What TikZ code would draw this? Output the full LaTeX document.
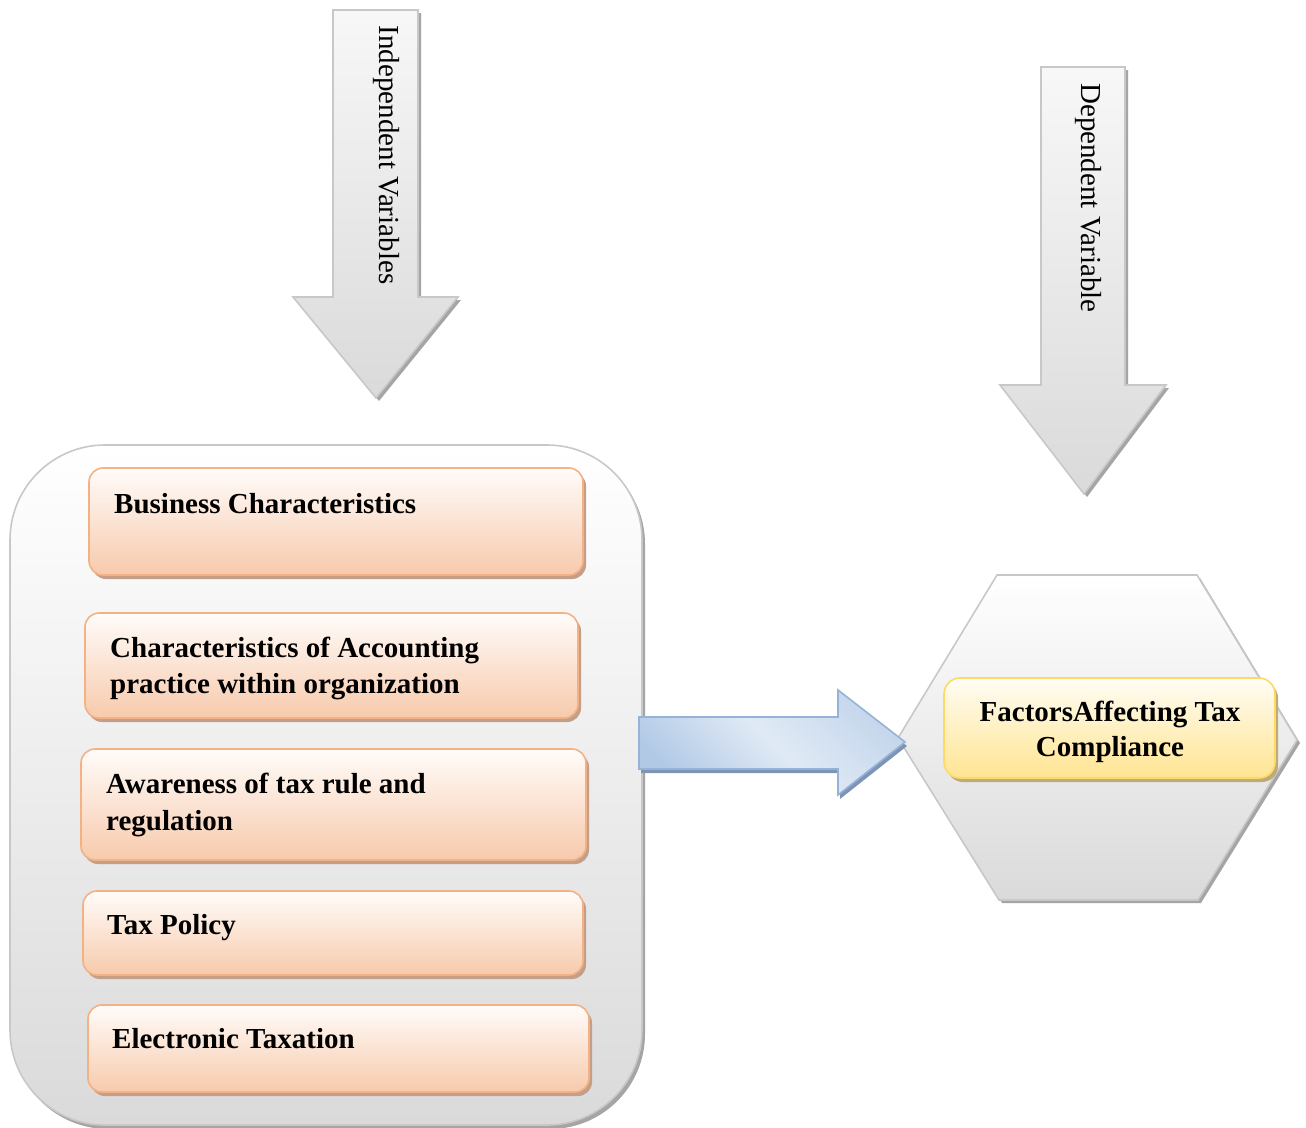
\documentclass[tikz,border=0pt]{standalone}
\usepackage{fontspec}
\setmainfont{Liberation Serif}
\usetikzlibrary{calc}
\definecolor{oline}{RGB}{244,177,131}
\definecolor{otop}{RGB}{255,252,250}
\definecolor{obot}{RGB}{247,202,172}
\definecolor{oshade}{RGB}{196,158,135}
\definecolor{yline}{RGB}{255,217,102}
\definecolor{ytop}{RGB}{255,253,245}
\definecolor{ybot}{RGB}{255,228,145}
\definecolor{yshade}{RGB}{190,172,120}
\definecolor{gline}{RGB}{200,200,200}
\definecolor{gtop}{RGB}{255,255,255}
\definecolor{gbot}{RGB}{218,218,218}
\definecolor{gshade}{RGB}{165,165,165}
\definecolor{bline}{RGB}{149,179,215}
\definecolor{bA}{RGB}{178,201,230}
\definecolor{bB}{RGB}{224,234,245}
\definecolor{bshade}{RGB}{125,148,180}
\newcommand\shadowedbox[7]{%
  \node[#2, minimum width=#6pt, minimum height=#7pt] at (#4+3,#5+4) {};
  \node[#1, minimum width=#6pt, minimum height=#7pt] (#3) at (#4,#5) {};
}
\begin{document}
\begin{tikzpicture}[x=1pt,y=-1pt,
  lbl/.style={font=\bfseries\fontsize{29}{36}\selectfont, inner sep=0pt, align=left},
  vlbl/.style={font=\fontsize{29}{35}\selectfont, inner sep=0pt, rotate=-90},
  obox/.style={draw=oline, line width=1.6pt, rounded corners=14pt, top color=otop, bottom color=obot, inner sep=0pt},
  oshadow/.style={fill=oshade, rounded corners=14pt, inner sep=0pt},
  ybox/.style={draw=yline, line width=1.6pt, rounded corners=16pt, top color=ytop, bottom color=ybot, inner sep=0pt},
  yshadow/.style={fill=yshade, rounded corners=16pt, inner sep=0pt},
  panelbox/.style={draw=gline, line width=1.6pt, rounded corners=95pt, top color=gtop, bottom color=gbot, inner sep=0pt},
  panelshadow/.style={fill=gshade, rounded corners=95pt, inner sep=0pt},
  garrow/.style={draw=gline, line width=1.6pt, top color=gray!6, bottom color=gbot, line join=miter},
  gshadowfill/.style={fill=gshade},
  barrow/.style={draw=bline, line width=1.6pt, left color=bA, right color=bA!60!bB, middle color=bB, shading angle=135},
  bshadowfill/.style={fill=bshade}
]
\useasboundingbox (0,0) rectangle (1306,1127);
\fill[white] (0,0) rectangle (1306,1127);

% top arrows (shadows first)
\begin{scope}[shift={(3,3)}]
  \fill[gshadowfill] (333,10) -- (418,10) -- (418,297) -- (458,297) -- (376,398) -- (293,297) -- (333,297) -- cycle;
  \fill[gshadowfill] (1041,67) -- (1125,67) -- (1125,385) -- (1166,385) -- (1084,494) -- (1000,385) -- (1041,385) -- cycle;
\end{scope}
\path[garrow] (333,10) -- (418,10) -- (418,297) -- (458,297) -- (376,398) -- (293,297) -- (333,297) -- cycle;
\path[garrow] (1041,67) -- (1125,67) -- (1125,385) -- (1166,385) -- (1084,494) -- (1000,385) -- (1041,385) -- cycle;
\node[vlbl] (indep) at (386,155) {Independent Variables};
\node[vlbl] (dep) at (1088,198) {Dependent Variable};

% left panel
\shadowedbox{panelbox}{panelshadow}{panel}{326}{785}{632}{680}

\shadowedbox{obox}{oshadow}{b1}{336}{521.5}{494}{107}
\shadowedbox{obox}{oshadow}{b2}{331.5}{665.5}{493}{105}
\shadowedbox{obox}{oshadow}{b3}{333.5}{804.5}{505}{111}
\shadowedbox{obox}{oshadow}{b4}{333}{933}{500}{84}
\shadowedbox{obox}{oshadow}{b5}{338.5}{1048.5}{501}{87}

\node[lbl, anchor=base west] (t1) at (114,513) {Business Characteristics};
\node[lbl, anchor=west] (t2) at (110,668) {Characteristics of Accounting\\practice within organization};
\node[lbl, anchor=west, font=\bfseries\fontsize{29}{37}\selectfont] (t3) at (106,805) {Awareness of tax rule and\\regulation};
\node[lbl, anchor=base west] (t4) at (107,934) {Tax Policy};
\node[lbl, anchor=base west] (t5) at (112,1048) {Electronic Taxation};

% hexagon
\fill[gshadowfill] (1000,578) -- (1200,578) -- (1300,743) -- (1201,903) -- (1002,903) -- (901,741) -- cycle;
\path[draw=gline, line width=1.6pt, top color=white, bottom color=gbot] (997,575) -- (1197,575) -- (1297,740) -- (1198,900) -- (999,900) -- (898,738) -- cycle;
\coordinate (hex) at (1097,738);

\shadowedbox{ybox}{yshadow}{goal}{1109.5}{728}{331}{100}
\node[lbl, align=center, font=\bfseries\fontsize{29}{35}\selectfont] (tg) at (1110,732) {FactorsAffecting Tax\\Compliance};

% blue arrow
\fill[bshadowfill] (641,721) -- (840,721) -- (840,694) -- (907,746) -- (840,799) -- (840,773) -- (641,773) -- cycle;
\path[barrow] (639,717) -- (838,717) -- (838,690) -- (905,742) -- (838,795) -- (838,769) -- (639,769) -- cycle;
\end{tikzpicture}
\end{document}
